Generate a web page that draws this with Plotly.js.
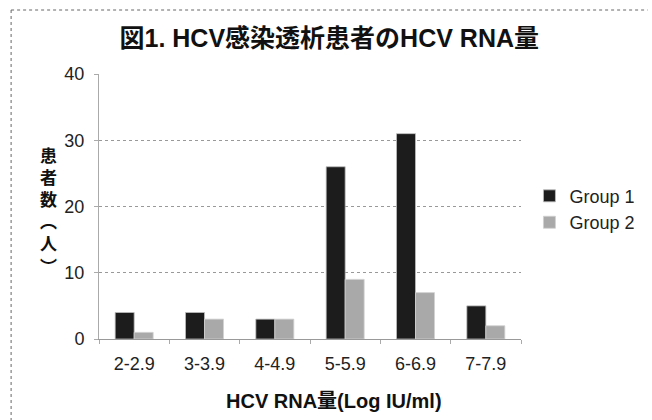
<!DOCTYPE html>
<html><head><meta charset="utf-8">
<script src="https://cdn.plot.ly/plotly-3.0.1.min.js"></script>
<style>body{margin:0;background:#fff}#chart{width:652px;height:420px}</style>
</head><body><div id="chart"></div>
<script>
const categories = ["2-2.9","3-3.9","4-4.9","5-5.9","6-6.9","7-7.9"];
const group1 = [4,4,3,26,31,5];
const group2 = [1,3,3,9,7,2];
const seriesNames = ["Group 1","Group 2"];
const yTicks = [0,10,20,30,40];
const yTitleChars = ["患","者","数","︵","人","︶"];

const FONT = "Liberation Sans, Arial, Noto Sans CJK JP, sans-serif";
const data = [
  {type:"bar", x:categories, y:group1, name:seriesNames[0],
   marker:{color:"#1c1c1c", line:{color:"#bdbdbd", width:0.8}}},
  {type:"bar", x:categories, y:group2, name:seriesNames[1],
   marker:{color:"#a9a9a9", line:{color:"#d0d0d0", width:0.8}}}
];
const layout = {
  width:652, height:420,
  margin:{l:99, r:121, t:74, b:81},
  paper_bgcolor:"#fff", plot_bgcolor:"#fff",
  font:{family:FONT, color:"#222", size:17},
  title:{text:"<b>図1. HCV感染透析患者のHCV RNA量</b>", x:0.505, xanchor:"center", y:0.91, yanchor:"middle",
         font:{family:FONT, size:25, color:"#111"}},
  barmode:"group", bargap:0.46, bargroupgap:0,
  xaxis:{tickvals:categories, ticktext:categories, showgrid:false, showline:true, linecolor:"#999", linewidth:1,
         ticks:"outside", tickson:"boundaries", ticklen:4, tickcolor:"#aaa", ticklabelstandoff:8,
         tickfont:{size:18, color:"#222"}},
  yaxis:{range:[0,40], tickvals:yTicks, showgrid:true, gridcolor:"#999", griddash:"dot", gridwidth:1,
         showline:true, linecolor:"#aaa", linewidth:1, zeroline:false, ticklabelstandoff:6,
         ticks:"outside", ticklen:4, tickcolor:"#aaa", tickfont:{size:18, color:"#222"}},
  legend:{x:1.02, xanchor:"left", y:0.49, yanchor:"middle", font:{size:18, color:"#222"},
          itemwidth:30, tracegroupgap:0, bgcolor:"rgba(0,0,0,0)"},
  annotations:[
    {xref:"paper", yref:"paper", x:-0.120, y:0.479, xanchor:"center", yanchor:"middle", showarrow:false,
     text:"<b>"+yTitleChars.join("<br>")+"</b>", font:{size:17, color:"#111"}},
    {xref:"paper", yref:"paper", x:0.556, y:-0.234, xanchor:"center", yanchor:"middle", showarrow:false,
     text:"<b>HCV RNA量(Log IU/ml)</b>", font:{size:20, color:"#111"}}
  ],
  shapes:[
    {type:"line", xref:"paper", yref:"paper", x0:-0.2083, x1:1.3, y0:1.2415, y1:1.2415, line:{color:"#666", width:1, dash:"dot"}},
    {type:"line", xref:"paper", yref:"paper", x0:-0.2083, x1:-0.2083, y0:1.2415, y1:-0.31, line:{color:"#666", width:1, dash:"dot"}}
  ]
};
Plotly.newPlot("chart", data, layout, {displayModeBar:false});
</script></body></html>
